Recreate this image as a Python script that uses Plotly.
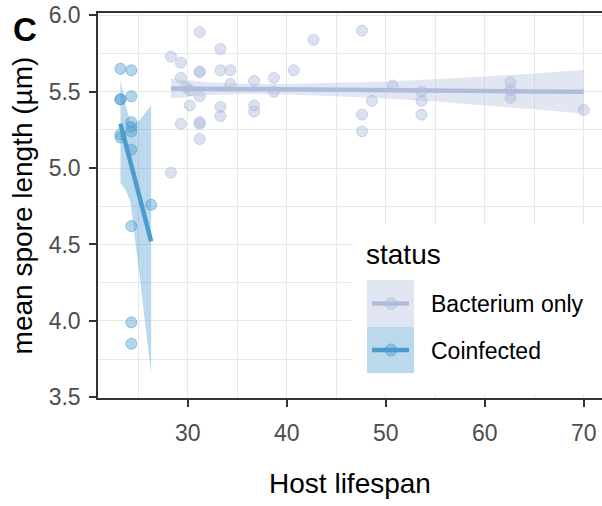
import plotly.graph_objects as go

# ---------------- data ----------------
bact_x = [28.3, 28.3, 29.3, 29.3, 29.3, 29.8, 30.2, 30.2,
          31.2, 31.2, 31.2, 31.2, 31.2, 31.2, 31.2,
          33.3, 33.3, 33.3, 33.3, 34.3, 34.3,
          36.7, 36.7, 36.7, 38.7, 38.7, 40.7, 42.7,
          47.6, 47.6, 47.6, 48.6, 50.7,
          53.6, 53.6, 53.6, 62.6, 62.6, 62.6, 70.0]
bact_y = [5.73, 4.97, 5.69, 5.59, 5.29, 5.53, 5.51, 5.41,
          5.89, 5.63, 5.63, 5.47, 5.30, 5.29, 5.19,
          5.78, 5.64, 5.40, 5.34, 5.64, 5.55,
          5.57, 5.41, 5.37, 5.59, 5.50, 5.64, 5.84,
          5.90, 5.35, 5.24, 5.44, 5.54,
          5.50, 5.44, 5.35, 5.56, 5.51, 5.46, 5.38]

coinf_x = [23.2, 23.2, 23.2, 23.2, 23.2,
           24.3, 24.3, 24.3, 24.3, 24.3, 24.3, 24.3, 24.3, 24.3,
           26.3]
coinf_y = [5.65, 5.45, 5.45, 5.22, 5.20,
           5.64, 5.47, 5.30, 5.27, 5.24, 5.12, 4.62, 3.99, 3.85,
           4.76]

# smoother fits and confidence bands
bact_fit_x = [28.3, 32, 36, 40, 45, 50, 55, 60, 65, 70]
bact_fit_y = [5.521, 5.520, 5.518, 5.516, 5.514, 5.511, 5.508, 5.505, 5.502, 5.499]
bact_lo = [5.455, 5.478, 5.485, 5.482, 5.470, 5.455, 5.435, 5.410, 5.385, 5.355]
bact_hi = [5.587, 5.562, 5.551, 5.550, 5.558, 5.567, 5.581, 5.600, 5.619, 5.643]

coinf_fit_x = [23.2, 23.7, 24.2, 24.7, 25.2, 25.7, 26.3]
coinf_fit_y = [5.29, 5.17, 5.04, 4.92, 4.79, 4.67, 4.52]
coinf_lo = [4.90, 4.86, 4.78, 4.52, 4.26, 3.98, 3.65]
coinf_hi = [5.58, 5.42, 5.30, 5.29, 5.32, 5.36, 5.41]

x_ticks = [30, 40, 50, 60, 70]
y_ticks = [3.5, 4.0, 4.5, 5.0, 5.5, 6.0]
series_names = ["Bacterium only", "Coinfected"]

# ---------------- styles ----------------
BACT = (176, 188, 220)
COIN = (75, 155, 205)

def rgba(c, a):
    return f"rgba({c[0]},{c[1]},{c[2]},{a})"

W, H = 602, 506
L, R, T, B = 98, 0, 13, 108
PW, PH = W - L - R, H - T - B

def px(x):
    return (x - L) / PW

def py(y):
    return (H - B - y) / PH

fig = go.Figure()

# points
fig.add_trace(go.Scatter(x=bact_x, y=bact_y, mode="markers", name=series_names[0],
                         marker=dict(size=11, color=rgba(BACT, 0.45),
                                     line=dict(color=rgba(BACT, 0.6), width=1)),
                         showlegend=False))
fig.add_trace(go.Scatter(x=coinf_x, y=coinf_y, mode="markers", name=series_names[1],
                         marker=dict(size=11, color=rgba(COIN, 0.42),
                                     line=dict(color=rgba(COIN, 0.55), width=1)),
                         showlegend=False))

# ribbons
for fx, lo, hi, c in [(bact_fit_x, bact_lo, bact_hi, BACT),
                      (coinf_fit_x, coinf_lo, coinf_hi, COIN)]:
    fig.add_trace(go.Scatter(x=fx + fx[::-1], y=hi + lo[::-1], fill="toself",
                             mode="none", fillcolor=rgba(c, 0.38),
                             hoverinfo="skip", showlegend=False))

# fit lines
fig.add_trace(go.Scatter(x=bact_fit_x, y=bact_fit_y, mode="lines",
                         line=dict(color=rgba(BACT, 1), width=4.5), showlegend=False))
fig.add_trace(go.Scatter(x=coinf_fit_x, y=coinf_fit_y, mode="lines",
                         line=dict(color=rgba(COIN, 1), width=4.5), showlegend=False))

FONT = "Liberation Sans, Arial, sans-serif"
AXC = "#333333"

fig.update_layout(
    width=W, height=H,
    margin=dict(l=L, r=R, t=T, b=B),
    paper_bgcolor="white", plot_bgcolor="white",
    font=dict(family=FONT, color="black"),
    showlegend=False,
    xaxis=dict(range=[20.93, 71.84], tickvals=x_ticks, ticktext=[str(v) for v in x_ticks],
               showgrid=True, gridcolor="#e8e8e8", gridwidth=1.4,
               minor=dict(dtick=5, tick0=0, showgrid=True, gridcolor="#e8e8e8", gridwidth=1.2),
               showline=True, linecolor=AXC, linewidth=1.5, mirror=True,
               ticks="outside", ticklen=7, tickwidth=1.5, tickcolor=AXC,
               tickfont=dict(size=23, color="#4d4d4d", family=FONT),
               ticklabelstandoff=7,
               title=dict(text="Host lifespan", font=dict(size=28, color="black", family=FONT),
                          standoff=28),
               zeroline=False),
    yaxis=dict(range=[3.495, 6.015], tickvals=y_ticks, ticktext=[f"{v:.1f}" for v in y_ticks],
               showgrid=True, gridcolor="#e8e8e8", gridwidth=1.4,
               minor=dict(dtick=0.25, tick0=0, showgrid=True, gridcolor="#e8e8e8", gridwidth=1.2),
               showline=True, linecolor=AXC, linewidth=1.5, mirror=False,
               ticks="outside", ticklen=7, tickwidth=1.5, tickcolor=AXC,
               tickfont=dict(size=23, color="#4d4d4d", family=FONT),
               ticklabelstandoff=4,
               title=dict(text="mean spore length (µm)", font=dict(size=28, color="black", family=FONT),
                          standoff=8),
               zeroline=False),
)

# ---------------- manual legend (ggplot style keys) ----------------
shapes = []
shapes.append(dict(type="rect", xref="paper", yref="paper", layer="above",
                   x0=px(352), x1=px(640), y0=py(394), y1=py(224),
                   fillcolor="white", line=dict(width=0)))
keys = [(280, 327, BACT), (327, 373, COIN)]
for (top, bot, c) in keys:
    shapes.append(dict(type="rect", xref="paper", yref="paper", layer="above",
                       x0=px(367), x1=px(414), y0=py(bot), y1=py(top),
                       fillcolor=rgba(c, 0.38), line=dict(width=0)))
    cy = (top + bot) / 2
    shapes.append(dict(type="line", xref="paper", yref="paper", layer="above",
                       x0=px(372), x1=px(409), y0=py(cy), y1=py(cy),
                       line=dict(color=rgba(c, 1), width=4.5)))
    shapes.append(dict(type="circle", xref="paper", yref="paper", layer="above",
                       x0=px(391 - 6), x1=px(391 + 6), y0=py(cy + 6), y1=py(cy - 6),
                       fillcolor=rgba(c, 0.42), line=dict(color=rgba(c, 0.55), width=1)))
fig.update_layout(shapes=shapes)

annotations = [
    dict(text="status", x=px(364), y=py(254), xref="paper", yref="paper",
         xanchor="left", yanchor="middle", showarrow=False,
         font=dict(size=28, color="black", family=FONT)),
    dict(text=series_names[0], x=px(429), y=py(304), xref="paper", yref="paper",
         xanchor="left", yanchor="middle", showarrow=False,
         font=dict(size=23, color="black", family=FONT)),
    dict(text=series_names[1], x=px(429), y=py(351), xref="paper", yref="paper",
         xanchor="left", yanchor="middle", showarrow=False,
         font=dict(size=23, color="black", family=FONT)),
    dict(text="<b>C</b>", x=px(11), y=py(29), xref="paper", yref="paper",
         xanchor="left", yanchor="middle", showarrow=False,
         font=dict(size=33, color="black", family=FONT)),
]
fig.update_layout(annotations=annotations)

fig.write_html("out.html")
